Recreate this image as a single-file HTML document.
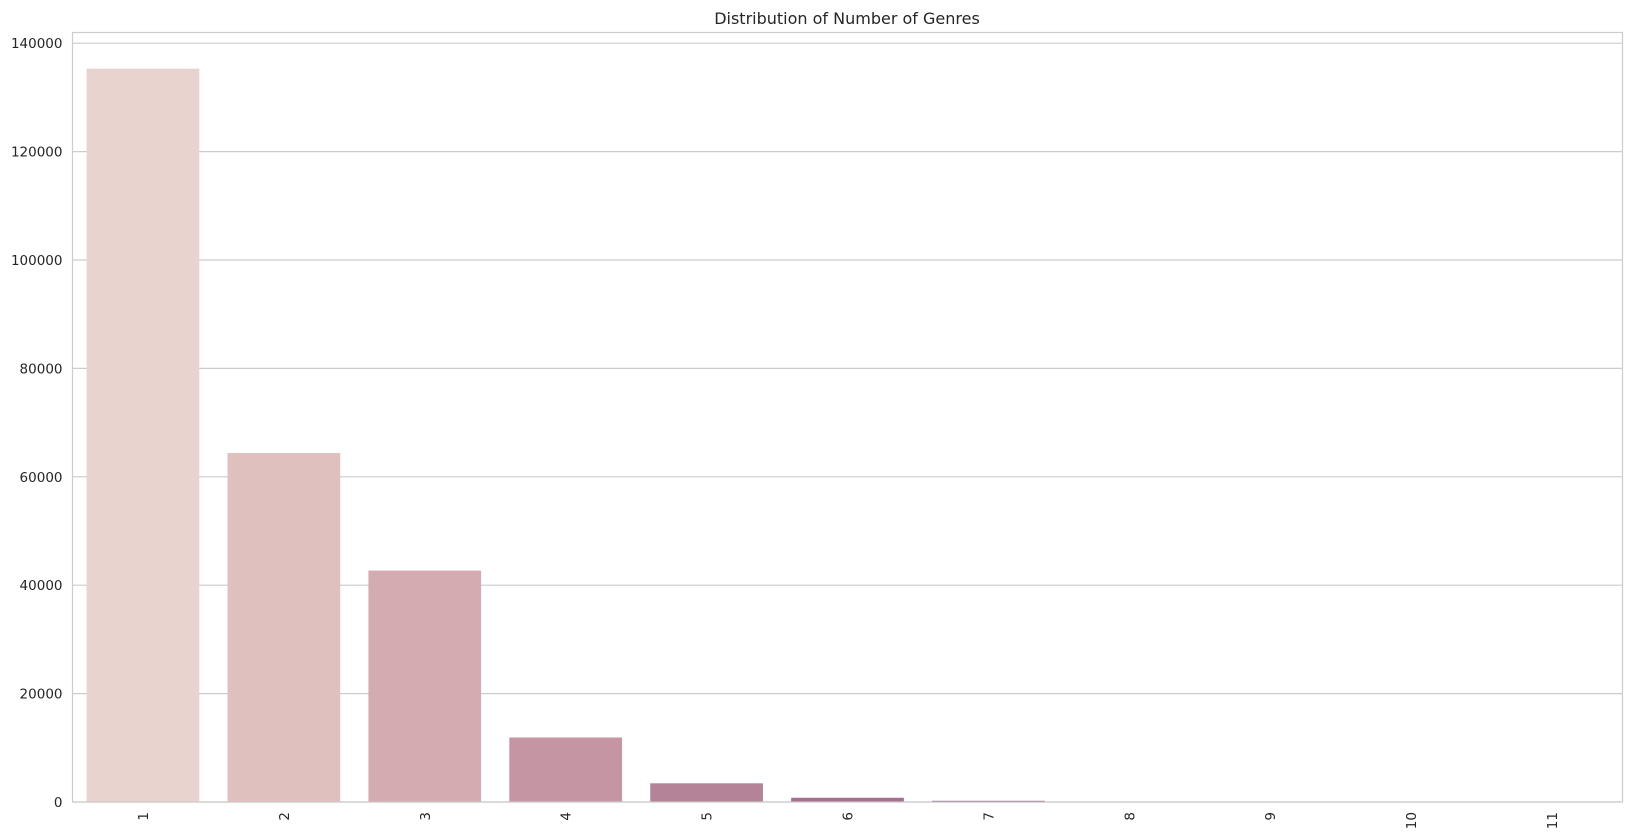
<!DOCTYPE html>
<html><head><meta charset="utf-8"><style>
html,body{margin:0;padding:0;background:#fff;overflow:hidden;width:1632px;height:839px;}
svg{display:block;font-family:"DejaVu Sans","Liberation Sans",sans-serif;}
</style></head><body>
<svg id="chart" width="1632" height="839" viewBox="0 0 1632 839">
<rect width="1632" height="839" fill="#fff"/>
<text x="847" y="24" font-size="16" text-anchor="middle" fill="#262626">Distribution of Number of Genres</text>
<g id="grid"></g><g id="bars"></g><g id="ticks"></g>
<rect x="72.5" y="32.5" width="1550" height="769.5" fill="none" stroke="#cccccc" stroke-width="1.2"/>
</svg>
<script>
const categories=["1","2","3","4","5","6","7","8","9","10","11"];
const counts=[135300,64400,42700,11900,3450,780,220,40,10,5,2];
const colors=["#e8d3cf","#e0c0bf","#d4abb1","#c695a4","#b58398","#a3718d","#915f83","#7e4f78","#6b406c","#573260","#432552"];
const yTicks=[0,20000,40000,60000,80000,100000,120000,140000];
const L=72.5,R=1622.5,T=32.5,B=802;
const y=v=>B-v/20000*108.4;
const band=(R-L)/categories.length;
const x=i=>L+band*i;
const ns="http://www.w3.org/2000/svg";
const grid=document.getElementById('grid'),bars=document.getElementById('bars'),ticks=document.getElementById('ticks');
yTicks.forEach(t=>{
 const ln=document.createElementNS(ns,'line');
 
 
 ln.setAttribute('x1',L);ln.setAttribute('x2',R);ln.setAttribute('y1',y(t));ln.setAttribute('y2',y(t));
 ln.setAttribute('stroke','#cccccc');ln.setAttribute('stroke-width','1.2');grid.appendChild(ln);
 const tx=document.createElementNS(ns,'text');
 
 
 tx.setAttribute('x',L-10);tx.setAttribute('y',y(t)+5);tx.setAttribute('font-size','13.5');
 tx.setAttribute('text-anchor','end');tx.setAttribute('fill','#262626');tx.textContent=t;ticks.appendChild(tx);
});
categories.forEach((c,i)=>{
 const r=document.createElementNS(ns,'rect');
 
 
 const w=band*0.8;
 r.setAttribute('x',x(i)+band*0.1);r.setAttribute('width',w);
 r.setAttribute('y',y(counts[i]));r.setAttribute('height',B-y(counts[i]));
 r.setAttribute('fill',colors[i]);bars.appendChild(r);
 const tx=document.createElementNS(ns,'text');
 
 
 const cx=x(i)+band/2+5, cy=B+10;
 tx.setAttribute('x',cx);tx.setAttribute('y',cy);tx.setAttribute('font-size','13.5');
 tx.setAttribute('text-anchor','end');tx.setAttribute('fill','#262626');
 tx.setAttribute('transform','rotate(-90 '+cx+' '+cy+')');tx.textContent=c;ticks.appendChild(tx);
});
</script>
</body></html>
